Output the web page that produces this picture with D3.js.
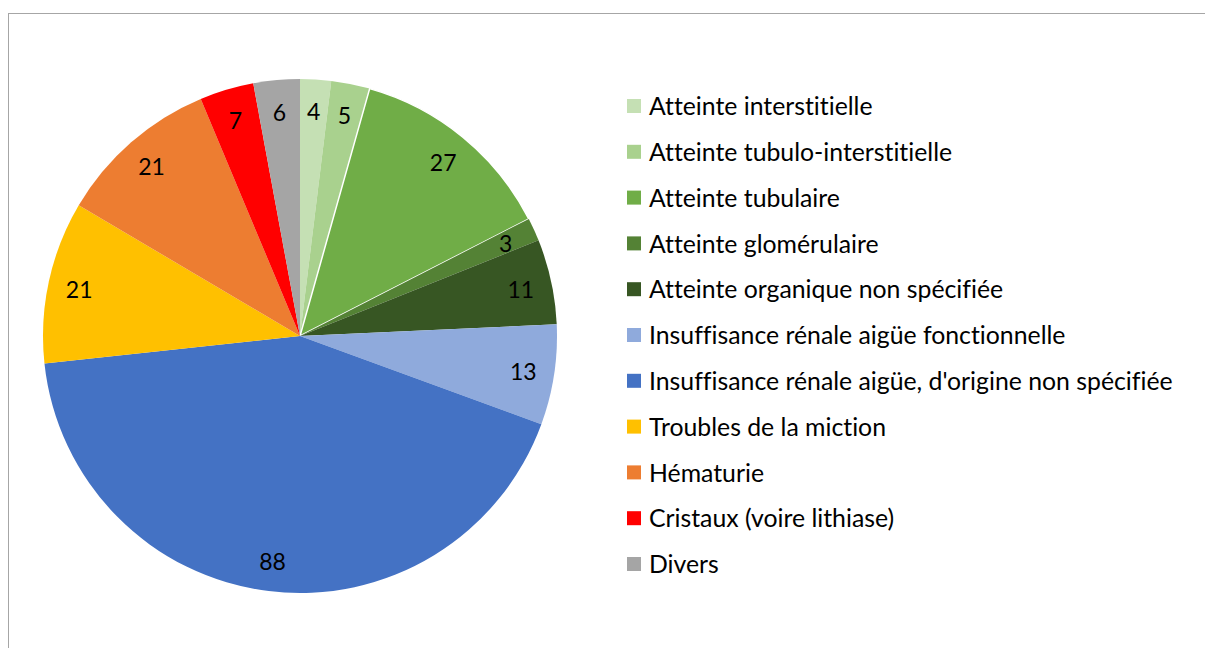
<!DOCTYPE html>
<html lang="fr">
<head>
    <meta charset="UTF-8">
    <title>Répartition</title>
    <style>
        body { margin: 0; background: #fff; }
        svg text { font-family: Lato, "Open Sans", sans-serif; fill: #000; font-variant-ligatures: none; }
    </style>
</head>
<body>
    <svg id="chart" width="1205" height="648"></svg>

    <script src="https://d3js.org/d3.v7.min.js"></script>
    <script>
        const categories = [
            "Atteinte interstitielle",
            "Atteinte tubulo-interstitielle",
            "Atteinte tubulaire",
            "Atteinte glomérulaire",
            "Atteinte organique non spécifiée",
            "Insuffisance rénale aigüe fonctionnelle",
            "Insuffisance rénale aigüe, d'origine non spécifiée",
            "Troubles de la miction",
            "Hématurie",
            "Cristaux (voire lithiase)",
            "Divers"
        ];
        const values = [4, 5, 27, 3, 11, 13, 88, 21, 21, 7, 6];
        const colors = ["#C5E0B4", "#A9D18E", "#70AD47", "#548235", "#375623",
                        "#8FAADC", "#4472C4", "#FFC000", "#ED7D31", "#FF0000", "#A5A5A5"];

        const svg = d3.select("#chart");

        // cadre
        svg.append("rect")
            .attr("x", 8.5).attr("y", 13.5)
            .attr("width", 1300).attr("height", 700)
            .attr("fill", "none")
            .attr("stroke", "#a6a6a6")
            .attr("stroke-width", 1);

        const cx = 300, cy = 336, radius = 257;
        const data = categories.map((c, i) => ({ name: c, value: values[i], color: colors[i] }));

        const pie = d3.pie().sort(null).value(d => d.value);
        const arc = d3.arc().innerRadius(0).outerRadius(radius);
        const labelArc = d3.arc().innerRadius(226).outerRadius(226);

        const g = svg.append("g").attr("transform", `translate(${cx},${cy})`);
        const arcs = pie(data);

        g.selectAll("path")
            .data(arcs)
            .enter().append("path")
            .attr("d", arc)
            .attr("fill", d => d.data.color)
            .attr("stroke", d => d.data.value === 27 ? "#fff" : "none")
            .attr("stroke-width", 1.5);

        g.selectAll("text.val")
            .data(arcs)
            .enter().append("text")
            .attr("class", "val")
            .attr("transform", d => `translate(${labelArc.centroid(d)})`)
            .attr("text-anchor", "middle")
            .attr("dy", "0.42em")
            .style("font-size", "23px")
            .text(d => d.data.value);

        // légende
        const legend = svg.append("g").attr("transform", "translate(627,106)");
        const rowH = 45.8;
        const item = legend.selectAll("g")
            .data(data)
            .enter().append("g")
            .attr("transform", (d, i) => `translate(0,${i * rowH})`);
        item.append("rect")
            .attr("x", 0).attr("y", -7)
            .attr("width", 14).attr("height", 14)
            .attr("fill", d => d.color);
        item.append("text")
            .attr("x", 22)
            .attr("dy", "0.37em")
            .style("font-size", "24.8px")
            .text(d => d.name);
    </script>
</body>
</html>
